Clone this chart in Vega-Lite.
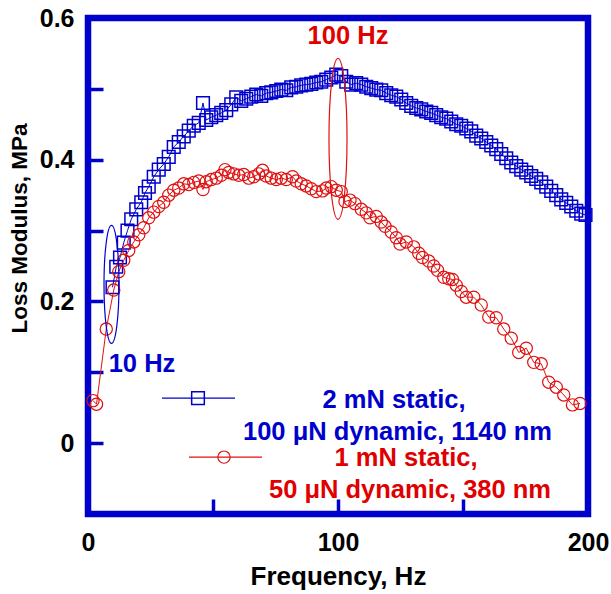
{
  "$schema": "https://vega.github.io/schema/vega-lite/v6.json",
  "width": 500,
  "height": 496,
  "autosize": {"type": "none"},
  "padding": {"left": 88, "top": 18, "right": 23, "bottom": 80},
  "background": "white",
  "config": {
    "view": {"stroke": "#0000cd", "strokeWidth": 6.5},
    "font": "Liberation Sans",
    "text": {"font": "Liberation Sans", "fontWeight": "bold", "fontSize": 25.5}
  },
  "datasets": {
    "blue": [
      {"f":9.8,"v":0.220},{"f":11.3,"v":0.249},{"f":12.8,"v":0.262},{"f":14.3,"v":0.283},{"f":15.8,"v":0.300},{"f":17.3,"v":0.316},{"f":19.3,"v":0.330},{"f":21.3,"v":0.340},{"f":22.8,"v":0.353},{"f":24.3,"v":0.362},{"f":26.3,"v":0.376},{"f":28.3,"v":0.386},{"f":30.3,"v":0.394},{"f":32.3,"v":0.404},{"f":34.3,"v":0.418},{"f":36.3,"v":0.425},{"f":38.3,"v":0.433},{"f":40.3,"v":0.441},{"f":42.3,"v":0.448},{"f":44.3,"v":0.452},{"f":46.0,"v":0.480},{"f":47.3,"v":0.456},{"f":49.3,"v":0.460},{"f":51.3,"v":0.463},{"f":53.3,"v":0.466},{"f":55.3,"v":0.470},{"f":57.3,"v":0.478},{"f":59.3,"v":0.488},{"f":61.3,"v":0.483},{"f":63.3,"v":0.486},{"f":65.3,"v":0.489},{"f":67.3,"v":0.492},{"f":69.3,"v":0.490},{"f":71.3,"v":0.494},{"f":73.3,"v":0.495},{"f":75.3,"v":0.497},{"f":77.3,"v":0.499},{"f":79.3,"v":0.498},{"f":81.3,"v":0.502},{"f":83.3,"v":0.503},{"f":85.3,"v":0.505},{"f":87.3,"v":0.506},{"f":89.3,"v":0.507},{"f":91.3,"v":0.509},{"f":93.3,"v":0.510},{"f":95.3,"v":0.513},{"f":97.3,"v":0.516},{"f":99.3,"v":0.520},{"f":101.3,"v":0.518},{"f":103.3,"v":0.510},{"f":105.3,"v":0.506},{"f":107.3,"v":0.508},{"f":109.3,"v":0.506},{"f":111.3,"v":0.503},{"f":113.3,"v":0.501},{"f":115.3,"v":0.499},{"f":117.3,"v":0.498},{"f":119.3,"v":0.494},{"f":121.3,"v":0.491},{"f":123.3,"v":0.489},{"f":125.3,"v":0.485},{"f":127.3,"v":0.480},{"f":129.3,"v":0.476},{"f":131.3,"v":0.473},{"f":133.3,"v":0.471},{"f":135.3,"v":0.468},{"f":137.3,"v":0.466},{"f":139.3,"v":0.463},{"f":141.3,"v":0.460},{"f":143.3,"v":0.458},{"f":145.3,"v":0.454},{"f":147.3,"v":0.450},{"f":149.3,"v":0.448},{"f":151.3,"v":0.444},{"f":153.3,"v":0.440},{"f":155.3,"v":0.434},{"f":157.3,"v":0.430},{"f":159.3,"v":0.425},{"f":161.3,"v":0.420},{"f":163.3,"v":0.415},{"f":165.3,"v":0.408},{"f":167.3,"v":0.402},{"f":169.3,"v":0.396},{"f":171.3,"v":0.391},{"f":173.3,"v":0.386},{"f":175.3,"v":0.382},{"f":177.3,"v":0.377},{"f":179.3,"v":0.373},{"f":181.3,"v":0.368},{"f":183.3,"v":0.362},{"f":185.3,"v":0.356},{"f":187.3,"v":0.350},{"f":189.3,"v":0.344},{"f":191.3,"v":0.339},{"f":193.3,"v":0.334},{"f":195.3,"v":0.328},{"f":197.3,"v":0.324},{"f":199.0,"v":0.322}
    ],
    "red": [
      {"f":2.0,"v":0.060},{"f":3.4,"v":0.055},{"f":7.3,"v":0.161},{"f":10.3,"v":0.216},{"f":12.3,"v":0.242},{"f":14.3,"v":0.258},{"f":16.3,"v":0.272},{"f":18.3,"v":0.284},{"f":20.3,"v":0.294},{"f":22.3,"v":0.304},{"f":24.3,"v":0.318},{"f":26.3,"v":0.326},{"f":28.3,"v":0.334},{"f":30.3,"v":0.340},{"f":32.3,"v":0.350},{"f":34.3,"v":0.357},{"f":36.3,"v":0.360},{"f":38.3,"v":0.366},{"f":40.3,"v":0.365},{"f":42.3,"v":0.368},{"f":44.3,"v":0.370},{"f":46.0,"v":0.358},{"f":47.3,"v":0.369},{"f":49.3,"v":0.372},{"f":51.3,"v":0.374},{"f":53.3,"v":0.378},{"f":54.8,"v":0.386},{"f":56.3,"v":0.382},{"f":58.3,"v":0.380},{"f":60.3,"v":0.378},{"f":62.3,"v":0.379},{"f":64.3,"v":0.374},{"f":66.3,"v":0.376},{"f":68.3,"v":0.380},{"f":69.8,"v":0.385},{"f":71.3,"v":0.377},{"f":73.3,"v":0.374},{"f":75.3,"v":0.372},{"f":77.3,"v":0.374},{"f":79.3,"v":0.372},{"f":81.8,"v":0.376},{"f":83.3,"v":0.370},{"f":85.3,"v":0.366},{"f":87.3,"v":0.363},{"f":89.3,"v":0.359},{"f":91.3,"v":0.355},{"f":93.8,"v":0.356},{"f":95.3,"v":0.360},{"f":97.3,"v":0.362},{"f":99.3,"v":0.357},{"f":101.3,"v":0.355},{"f":102.8,"v":0.341},{"f":104.8,"v":0.343},{"f":106.8,"v":0.338},{"f":109.3,"v":0.330},{"f":111.3,"v":0.325},{"f":112.8,"v":0.318},{"f":115.3,"v":0.320},{"f":117.3,"v":0.312},{"f":118.8,"v":0.306},{"f":121.3,"v":0.298},{"f":123.3,"v":0.290},{"f":124.8,"v":0.281},{"f":127.3,"v":0.284},{"f":130.3,"v":0.277},{"f":132.3,"v":0.268},{"f":133.8,"v":0.262},{"f":136.3,"v":0.257},{"f":138.3,"v":0.250},{"f":139.8,"v":0.244},{"f":142.3,"v":0.234},{"f":144.3,"v":0.232},{"f":145.8,"v":0.231},{"f":147.3,"v":0.223},{"f":149.3,"v":0.214},{"f":151.3,"v":0.206},{"f":154.3,"v":0.206},{"f":157.3,"v":0.195},{"f":160.3,"v":0.178},{"f":163.3,"v":0.177},{"f":166.3,"v":0.161},{"f":169.3,"v":0.148},{"f":172.3,"v":0.128},{"f":175.3,"v":0.134},{"f":178.3,"v":0.114},{"f":181.3,"v":0.112},{"f":184.3,"v":0.086},{"f":187.3,"v":0.079},{"f":190.3,"v":0.068},{"f":193.8,"v":0.054},{"f":196.8,"v":0.056}
    ],
    "legendLines": [
      {"series":"blue","f":29.6,"f2":58.8,"v":0.0635,"m":44.0},
      {"series":"red","f":40.4,"f2":69.6,"v":-0.0197,"m":54.4}
    ],
    "labels": [
      {"series":"blue","text":"10 Hz","f":21.6,"v":0.111},
      {"series":"red","text":"100 Hz","f":104.0,"v":0.574},
      {"series":"blue","text":"2 mN static,","f":122.4,"v":0.0606},
      {"series":"blue","text":"100 μN dynamic, 1140 nm","f":123.8,"v":0.0155},
      {"series":"red","text":"1 mN static,","f":127.2,"v":-0.0212},
      {"series":"red","text":"50 μN dynamic, 380 nm","f":128.8,"v":-0.0663}
    ],
    "ellipses": [
      {"series":"blue","f":9.4,"v":0.224},
      {"series":"red","f":100.0,"v":0.4295}
    ]
  },
  "encoding": {
    "x": {
      "field": "f", "type": "quantitative",
      "scale": {"domain": [0, 200], "nice": false, "zero": false},
      "axis": {
        "title": "Frequency, Hz",
        "values": [0, 50, 100, 150, 200],
        "labelExpr": "datum.value % 100 == 0 ? datum.label : ''",
        "domain": false, "grid": false,
        "tickSize": -15, "tickWidth": 3.5, "tickColor": "#0000cd",
        "labelFont": "Liberation Sans", "labelFontWeight": "bold", "labelFontSize": 25, "labelColor": "black",
        "labelPadding": 31, "labelFlush": false,
        "titleFont": "Liberation Sans", "titleFontWeight": "bold", "titleFontSize": 26, "titleColor": "black",
        "titlePadding": 8
      }
    },
    "y": {
      "field": "v", "type": "quantitative",
      "scale": {"domain": [-0.1, 0.6], "nice": false, "zero": false},
      "axis": {
        "title": "Loss Modulus, MPa",
        "values": [0, 0.1, 0.2, 0.3, 0.4, 0.5, 0.6],
        "labelExpr": "round(datum.value * 10) % 2 != 0 ? '' : (datum.value == 0 ? '0' : format(datum.value, '.1f'))",
        "domain": false, "grid": false,
        "tickSize": -15, "tickWidth": 3.5, "tickColor": "#0000cd",
        "labelFont": "Liberation Sans", "labelFontWeight": "bold", "labelFontSize": 25, "labelColor": "black",
        "labelPadding": 29, "labelFlush": false,
        "titleFont": "Liberation Sans", "titleFontWeight": "bold", "titleFontSize": 22.5, "titleColor": "black",
        "titleX": -57, "titleY": 210
      }
    }
  },
  "layer": [
    {
      "data": {"name": "blue"},
      "mark": {"type": "line", "color": "#0000cd", "strokeWidth": 1},
      "encoding": {}
    },
    {
      "data": {"name": "blue"},
      "mark": {"type": "point", "shape": "square", "filled": false, "color": "#0000cd", "strokeWidth": 1.5, "size": 160, "opacity": 1}
    },
    {
      "data": {"name": "red"},
      "mark": {"type": "line", "color": "#e01010", "strokeWidth": 1},
      "encoding": {}
    },
    {
      "data": {"name": "red"},
      "mark": {"type": "point", "shape": "circle", "filled": false, "color": "#e01010", "strokeWidth": 1.2, "size": 150, "opacity": 1}
    },
    {
      "data": {"name": "ellipses"},
      "transform": [{"filter": "datum.series == 'blue'"}],
      "mark": {"type": "point", "filled": false, "color": "#0000cd", "strokeWidth": 1.2, "opacity": 1, "size": 13924,
        "shape": "M0,-1C0.0701,-1 0.127,-0.5523 0.127,0C0.127,0.5523 0.0701,1 0,1C-0.0701,1 -0.127,0.5523 -0.127,0C-0.127,-0.5523 -0.0701,-1 0,-1Z"}
    },
    {
      "data": {"name": "ellipses"},
      "transform": [{"filter": "datum.series == 'red'"}],
      "mark": {"type": "point", "filled": false, "color": "#e01010", "strokeWidth": 1.2, "opacity": 1, "size": 25921,
        "shape": "M0,-1C0.0619,-1 0.112,-0.5523 0.112,0C0.112,0.5523 0.0619,1 0,1C-0.0619,1 -0.112,0.5523 -0.112,0C-0.112,-0.5523 -0.0619,-1 0,-1Z"}
    },
    {
      "data": {"name": "legendLines"},
      "transform": [{"filter": "datum.series == 'blue'"}],
      "mark": {"type": "rule", "color": "#0000cd", "strokeWidth": 1.2},
      "encoding": {"x2": {"field": "f2"}}
    },
    {
      "data": {"name": "legendLines"},
      "transform": [{"filter": "datum.series == 'blue'"}],
      "mark": {"type": "point", "shape": "square", "filled": false, "color": "#0000cd", "strokeWidth": 1.5, "size": 160, "opacity": 1},
      "encoding": {"x": {"field": "m", "type": "quantitative"}}
    },
    {
      "data": {"name": "legendLines"},
      "transform": [{"filter": "datum.series == 'red'"}],
      "mark": {"type": "rule", "color": "#e01010", "strokeWidth": 1.2},
      "encoding": {"x2": {"field": "f2"}}
    },
    {
      "data": {"name": "legendLines"},
      "transform": [{"filter": "datum.series == 'red'"}],
      "mark": {"type": "point", "shape": "circle", "filled": false, "color": "#e01010", "strokeWidth": 1.2, "size": 150, "opacity": 1},
      "encoding": {"x": {"field": "m", "type": "quantitative"}}
    },
    {
      "data": {"name": "labels"},
      "transform": [{"filter": "datum.series == 'blue'"}],
      "mark": {"type": "text", "color": "#0000cd", "align": "center", "baseline": "middle"},
      "encoding": {"text": {"field": "text"}}
    },
    {
      "data": {"name": "labels"},
      "transform": [{"filter": "datum.series == 'red'"}],
      "mark": {"type": "text", "color": "#e00000", "align": "center", "baseline": "middle"},
      "encoding": {"text": {"field": "text"}}
    }
  ]
}
